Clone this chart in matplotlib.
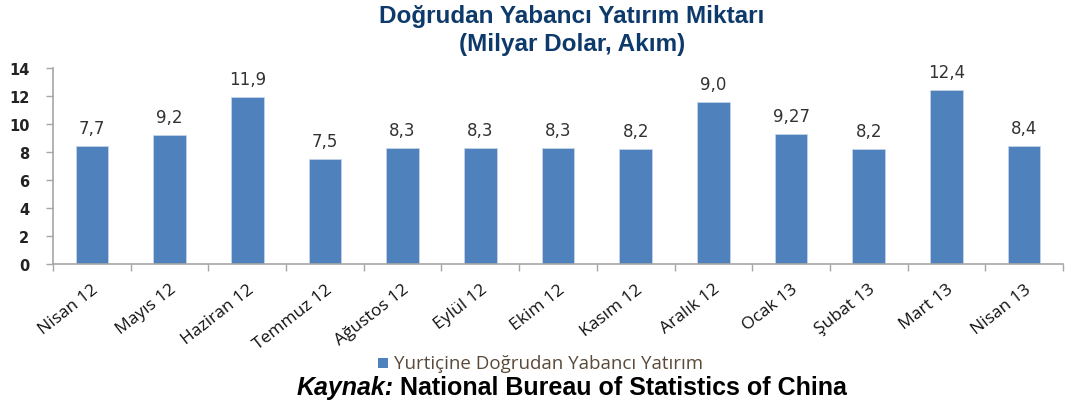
import matplotlib
matplotlib.use("Agg")
import matplotlib.pyplot as plt
import numpy as np
from matplotlib.patches import Rectangle

categories = ["Nisan 12", "Mayıs 12", "Haziran 12", "Temmuz 12", "Ağustos 12", "Eylül 12",
              "Ekim 12", "Kasım 12", "Aralık 12", "Ocak 13", "Şubat 13", "Mart 13", "Nisan 13"]
bar_heights = [8.4, 9.2, 11.9, 7.5, 8.3, 8.3, 8.3, 8.2, 11.6, 9.3, 8.2, 12.4, 8.4]
value_labels = ["7,7", "9,2", "11,9", "7,5", "8,3", "8,3", "8,3", "8,2", "9,0", "9,27", "8,2", "12,4", "8,4"]
yticks = [0, 2, 4, 6, 8, 10, 12, 14]

bar_color = "#4F81BD"
axis_color = "#A6A6A6"

fig = plt.figure(figsize=(10.72, 4.10), dpi=100)
ax = fig.add_axes([53/1072, 1-265/410, (1063-53)/1072, (265-69)/410])

x = np.arange(len(categories))
ax.bar(x, bar_heights, width=0.42, color=bar_color, edgecolor="#C5D3E8", linewidth=0.6, zorder=2)
for xi, h, lab in zip(x, bar_heights, value_labels):
    ax.text(xi, h + 0.65, lab, ha="center", va="bottom", fontsize=12,
            family="DejaVu Sans", color="#333333")

ax.set_xlim(-0.5, len(categories) - 0.5)
ax.set_ylim(0, 14)
ax.set_yticks(yticks)
ax.set_yticklabels([str(v) for v in yticks], fontsize=10.5, family="DejaVu Sans",
                   fontweight="bold", color="#222222")
ax.set_xticks(x)
ax.set_xticklabels(categories, rotation=38, ha="right", rotation_mode="anchor",
                   fontsize=12.5, family="Open Sans", color="#111111")
ax.tick_params(axis="x", which="major", length=0, pad=12)
ax.set_xticks(np.arange(-0.5, len(categories), 1.0), minor=True)
ax.tick_params(axis="x", which="minor", length=5, color=axis_color, width=1)
ax.tick_params(axis="y", length=5, color=axis_color, width=1, pad=12)
for s in ["top", "right"]:
    ax.spines[s].set_visible(False)
for s in ["left", "bottom"]:
    ax.spines[s].set_color(axis_color)
    ax.spines[s].set_linewidth(1.2)

title_color = "#0E3A6B"
fig.text(572/1072, 1-16/410, "Doğrudan Yabancı Yatırım Miktarı", ha="center", va="center",
         fontsize=17.5, fontweight="bold", family="Liberation Sans", color=title_color)
fig.text(572/1072, 1-44/410, "(Milyar Dolar, Akım)", ha="center", va="center",
         fontsize=17.5, fontweight="bold", family="Liberation Sans", color=title_color)

# legend
fig.patches.append(Rectangle((378/1072, 1-369/410), 10/1072, 10/410, transform=fig.transFigure,
                             facecolor=bar_color, edgecolor="none"))
fig.text(394/1072, 1-364/410, "Yurtiçine Doğrudan Yabancı Yatırım", ha="left", va="center",
         fontsize=13.5, family="Open Sans", color="#5A4A3A")

t1 = fig.text(297/1072, 1-388/410, "Kaynak:", ha="left", va="center", fontsize=18,
              fontweight="bold", style="italic", family="Liberation Sans", color="black")
fig.canvas.draw()
bb = t1.get_window_extent()
fig.text((bb.x1 + 6)/1072, 1-388/410, "National Bureau of Statistics of China", ha="left", va="center",
         fontsize=18, fontweight="bold", family="Liberation Sans", color="black")

fig.savefig("out.png", dpi=100)
